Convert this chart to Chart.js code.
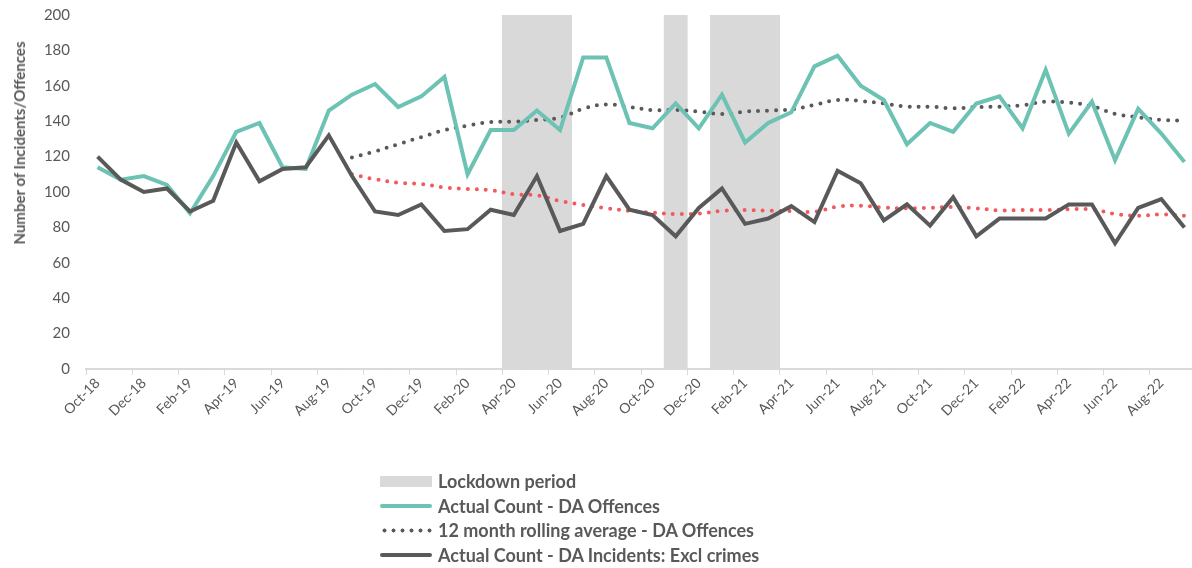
<!DOCTYPE html>
<html>
<head>
<meta charset="utf-8">
<script src="https://cdn.jsdelivr.net/npm/chart.js@4.4.1/dist/chart.umd.min.js"></script>
<style>
  html, body { margin: 0; padding: 0; background: #fff; overflow: hidden; }
  #wrap { position: relative; width: 1192px; height: 568px; overflow: hidden; }
  #chart { position: absolute; left: 0; top: 0; }
  #legend {
    position: absolute; left: 380px; top: 469px;
    font-family: Lato, "Open Sans", sans-serif; font-weight: 700; font-size: 18px;
    color: #595959;
  }
  .lg-item { display: flex; align-items: center; height: 24.5px; white-space: nowrap; }
  .lg-swatch { width: 52px; margin-right: 6px; flex: none; }
  #ytitle {
    position: absolute; left: 19px; top: 143px;
    transform: translate(-50%, -50%) rotate(-90deg);
    font-family: Lato, "Open Sans", sans-serif; font-weight: 700; font-size: 15px;
    color: #595959; white-space: nowrap;
  }
</style>
</head>
<body>
<div id="wrap">
  <!-- plot runs a few px past the right edge, as in the original -->
  <canvas id="chart" width="1198" height="568"></canvas>
  <div id="ytitle">Number of Incidents/Offences</div>
  <div id="legend"></div>
</div>
<script>
// ---- data ----
const months = [
  'Oct-18','Nov-18','Dec-18','Jan-19','Feb-19','Mar-19','Apr-19','May-19','Jun-19','Jul-19','Aug-19','Sep-19',
  'Oct-19','Nov-19','Dec-19','Jan-20','Feb-20','Mar-20','Apr-20','May-20','Jun-20','Jul-20','Aug-20','Sep-20',
  'Oct-20','Nov-20','Dec-20','Jan-21','Feb-21','Mar-21','Apr-21','May-21','Jun-21','Jul-21','Aug-21','Sep-21',
  'Oct-21','Nov-21','Dec-21','Jan-22','Feb-22','Mar-22','Apr-22','May-22','Jun-22','Jul-22','Aug-22','Sep-22'
];

const offences = [
  114, 107, 109, 104, 88, 109, 134, 139, 114, 113, 146, 155,
  161, 148, 154, 165, 110, 135, 135, 146, 135, 176, 176, 139,
  136, 150, 136, 155, 128, 139, 145, 171, 177, 160, 152, 127,
  139, 134, 150, 154, 136, 169, 133, 151, 118, 147, 133, 117
];

const offencesAvg = [
  null, null, null, null, null, null, null, null, null, null, null, 119.5,
  123, 127, 131, 135, 137.5, 139.5, 139.7, 140.7, 142, 147, 149.5, 148,
  146.3, 146.3, 145.4, 144, 145.4, 146, 146.7, 149.2, 152, 151.4, 150, 148.2,
  148.2, 147.3, 148, 148.2, 149, 151, 150.5, 148.5, 144.2, 142.2, 140.7, 140.3
];

const incidents = [
  120, 107, 100, 102, 89, 95, 128, 106, 113, 114, 132, 109,
  89, 87, 93, 78, 79, 90, 87, 109, 78, 82, 109, 90,
  87, 75, 91, 102, 82, 85, 92, 83, 112, 105, 84, 93,
  81, 97, 75, 85, 85, 85, 93, 93, 71, 91, 96, 80
];

const incidentsAvg = [
  null, null, null, null, null, null, null, null, null, null, null, 110,
  107.2, 105.3, 104.5, 102.6, 101.7, 101, 98.7, 98.1, 94.9, 92.7, 90.8, 89.3,
  88.3, 87.6, 87.8, 89.4, 89.8, 89.4, 89.2, 88.8, 91.7, 92.3, 91.2, 90.8,
  91, 91.5, 90.8, 89.6, 89.8, 89.8, 90.2, 90.2, 87.6, 86.6, 87.4, 86.6
];

// lockdown months drawn as full-height bars
const lockdown = [
  0, 0, 0, 0, 0, 0, 0, 0, 0, 0, 0, 0,
  0, 0, 0, 0, 0, 0, 200, 200, 200, 0, 0, 0,
  0, 200, 0, 200, 200, 200, 0, 0, 0, 0, 0, 0,
  0, 0, 0, 0, 0, 0, 0, 0, 0, 0, 0, 0
];

const yTicks = { min: 0, max: 200, step: 20 };

// ---- styling ----
const TEXT = '#595959';
const TEAL = '#6CC2B3';
const DARK = '#595959';
const RED = '#F4585A';
const LOCK = '#D9D9D9';
const FONT = 'Lato, "Open Sans", sans-serif';

const ctx = document.getElementById('chart');

const chart = new Chart(ctx, {
  data: {
    labels: months,
    datasets: [
      {
        type: 'bar', label: 'Lockdown period', data: lockdown,
        backgroundColor: LOCK, barPercentage: 1, categoryPercentage: 1, order: 10
      },
      {
        type: 'line', label: 'Actual Count - DA Offences', data: offences,
        borderColor: TEAL, borderWidth: 4, pointRadius: 0, tension: 0, order: 2
      },
      {
        type: 'line', label: '12 month rolling average - DA Offences', data: offencesAvg,
        borderColor: DARK, borderWidth: 4, borderDash: [0, 9], borderCapStyle: 'round',
        pointRadius: 0, tension: 0.4, order: 3
      },
      {
        type: 'line', label: 'Actual Count - DA Incidents: Excl crimes', data: incidents,
        borderColor: DARK, borderWidth: 4, pointRadius: 0, tension: 0, order: 1
      },
      {
        type: 'line', label: '12 month rolling average - DA Incidents', data: incidentsAvg,
        borderColor: RED, borderWidth: 4, borderDash: [0, 9], borderCapStyle: 'round',
        pointRadius: 0, tension: 0.4, order: 4, hideInLegend: true
      }
    ]
  },
  options: {
    responsive: false,
    animation: false,
    devicePixelRatio: 1,
    layout: { padding: { left: 10, top: 15, right: 2, bottom: 0 } },
    plugins: { legend: { display: false }, tooltip: { enabled: false } },
    scales: {
      x: {
        offset: true,
        grid: {
          offset: true, drawOnChartArea: false, drawTicks: true, tickLength: 6,
          color: c => (c.index % 2 === 0 ? LOCK : 'rgba(0,0,0,0)')
        },
        border: { display: true, color: LOCK, width: 2 },
        ticks: {
          autoSkip: false, maxRotation: 45, minRotation: 45, padding: 0,
          color: TEXT, font: { family: FONT, size: 14 },
          callback: (v, i) => (i % 2 === 0 ? months[i] : '')
        },
        afterFit: s => { s.height = 199; }
      },
      y: {
        min: yTicks.min, max: yTicks.max,
        ticks: { stepSize: yTicks.step, color: TEXT, font: { family: FONT, size: 15 }, padding: 0 },
        // invisible tick marks just push the labels away from the plot
        grid: { display: true, drawOnChartArea: false, drawTicks: true, tickLength: 16, color: 'rgba(0,0,0,0)' },
        border: { display: false },
        afterFit: s => { s.width = 76; }
      }
    }
  }
});

// ---- legend (single column, like the original) ----
function buildLegend(chart) {
  const box = document.getElementById('legend');
  box.innerHTML = chart.data.datasets
    .filter(ds => !ds.hideInLegend)
    .map(ds => {
      let sw;
      if (ds.type === 'bar') {
        sw = `<div class="lg-swatch" style="height:11px;background:${ds.backgroundColor}"></div>`;
      } else if (ds.borderDash) {
        sw = `<div class="lg-swatch" style="height:5px;background:radial-gradient(circle, ${ds.borderColor} 1.7px, transparent 2.3px) 0 0 / 9px 5px repeat-x"></div>`;
      } else {
        sw = `<div class="lg-swatch" style="height:4px;border-radius:2px;background:${ds.borderColor}"></div>`;
      }
      return `<div class="lg-item">${sw}<span>${ds.label}</span></div>`;
    }).join('');
}
buildLegend(chart);
</script>
</body>
</html>
